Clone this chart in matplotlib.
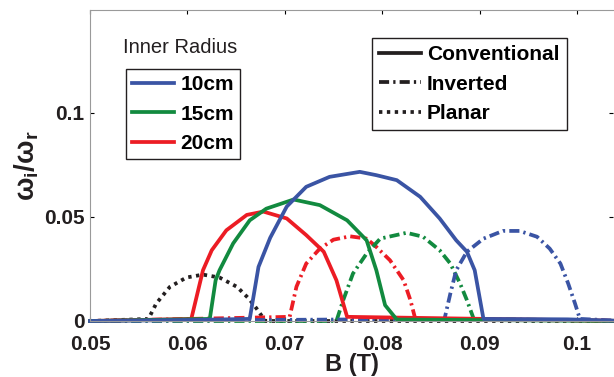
import matplotlib
matplotlib.use("Agg")
import matplotlib.pyplot as plt

plt.rcParams['font.family'] = ['Liberation Sans', 'DejaVu Sans']
plt.rcParams['mathtext.fontset'] = 'custom'
plt.rcParams['mathtext.rm'] = 'Liberation Sans'
plt.rcParams['mathtext.it'] = 'Liberation Sans:italic'
plt.rcParams['mathtext.bf'] = 'Liberation Sans:bold'

# curves, B (T) vs growth ratio
blue_conv_x = [0.05, 0.0605, 0.0664, 0.0673, 0.0685, 0.0702, 0.0722, 0.0746, 0.0777,
               0.0794, 0.0815, 0.0839, 0.0859, 0.0876, 0.0887, 0.0895, 0.0904, 0.099, 0.105]
blue_conv_y = [0, 0.0005, 0.001, 0.026, 0.040, 0.055, 0.0645, 0.0693, 0.0717,
               0.0701, 0.0677, 0.0597, 0.0493, 0.0388, 0.0333, 0.0244, 0.001, 0.0008, 0]

green_conv_x = [0.05, 0.0623, 0.0629, 0.0633, 0.0647, 0.0664, 0.0681, 0.0709, 0.0736,
                0.0764, 0.0784, 0.0794, 0.0803, 0.0815, 0.105]
green_conv_y = [0, 0.001, 0.0196, 0.0244, 0.0373, 0.0484, 0.054, 0.0584, 0.0557,
                0.0484, 0.0388, 0.0244, 0.0076, 0.0007, 0]

red_conv_x = [0.05, 0.0604, 0.0616, 0.0625, 0.0640, 0.0661, 0.0678, 0.0702, 0.0722,
              0.0740, 0.0753, 0.0764, 0.105]
red_conv_y = [0, 0.001, 0.0244, 0.034, 0.0436, 0.051, 0.0526, 0.0493, 0.0413,
              0.0333, 0.0196, 0.002, 0]

red_inv_x = [0.05, 0.0705, 0.0712, 0.0722, 0.0736, 0.0750, 0.0767, 0.0784, 0.0794,
             0.0808, 0.0822, 0.0829, 0.0834, 0.105]
red_inv_y = [0, 0.002, 0.0165, 0.0276, 0.0348, 0.0391, 0.0407, 0.0396, 0.0356,
             0.0292, 0.0196, 0.01, 0.001, 0]

green_inv_x = [0.05, 0.0753, 0.0760, 0.0770, 0.0784, 0.0798, 0.0825, 0.0842, 0.0859,
               0.0870, 0.0880, 0.0887, 0.0894, 0.105]
green_inv_y = [0, 0, 0.01, 0.0228, 0.0324, 0.0396, 0.0424, 0.0405, 0.034,
               0.0276, 0.018, 0.01, 0.001, 0]

blue_inv_x = [0.05, 0.0864, 0.0870, 0.0876, 0.0887, 0.0904, 0.0924, 0.0941, 0.0959,
              0.0972, 0.0983, 0.0991, 0.0998, 0.1003, 0.105]
blue_inv_y = [0, 0.001, 0.0132, 0.0244, 0.0333, 0.0396, 0.0433, 0.0433, 0.0405,
              0.0348, 0.0276, 0.018, 0.0084, 0.001, 0]

planar_x = [0.05, 0.0560, 0.0568, 0.0582, 0.0599, 0.0616, 0.0633, 0.0651, 0.0663,
            0.0671, 0.0680, 0.105]
planar_y = [0, 0.001, 0.0084, 0.0164, 0.0209, 0.0223, 0.0209, 0.0164, 0.0108,
            0.006, 0, 0]

xticks = [0.05, 0.06, 0.07, 0.08, 0.09, 0.1]
xticklabels = ['0.05', '0.06', '0.07', '0.08', '0.09', '0.1']
yticks = [0, 0.05, 0.1]
yticklabels = ['0', '0.05', '0.1']
radius_labels = ['10cm', '15cm', '20cm']
type_labels = ['Conventional', 'Inverted', 'Planar']

blue = '#3a54a4'
green = '#128a3f'
red = '#ec1c24'
black = '#231f20'

# matlab-ish dash patterns
dashdot = (0, (2.7, 1.1, 0.6, 1.1))
dotted = (0, (0.9, 1.2))

fig = plt.figure(figsize=(6.14, 3.77), dpi=100)
ax = fig.add_axes([90 / 614, 1 - 321 / 377, 523 / 614, 311 / 377])

lw = 2.7
ax.plot(planar_x, planar_y, ls=dotted, color=black, lw=lw, clip_on=False)
ax.plot(red_inv_x, red_inv_y, ls=dashdot, color=red, lw=lw, clip_on=False)
ax.plot(green_inv_x, green_inv_y, ls=dashdot, color=green, lw=lw, clip_on=False)
ax.plot(blue_inv_x, blue_inv_y, ls=dashdot, color=blue, lw=lw, clip_on=False)
h_red, = ax.plot(red_conv_x, red_conv_y, '-', color=red, lw=lw, clip_on=False)
h_green, = ax.plot(green_conv_x, green_conv_y, '-', color=green, lw=lw, clip_on=False)
h_blue, = ax.plot(blue_conv_x, blue_conv_y, '-', color=blue, lw=lw, clip_on=False)

ax.set_xlim(0.05, 0.1037)
ax.set_ylim(0, 0.1495)
ax.set_xticks(xticks)
ax.set_xticklabels(xticklabels, fontsize=15, fontweight='bold', color=black)
ax.set_yticks(yticks)
ax.set_yticklabels(yticklabels, fontsize=15, fontweight='bold', color=black)
ax.tick_params(direction='in', length=3, width=0.8, top=True, right=True)
ax.tick_params(axis='x', pad=10)
ax.tick_params(axis='y', pad=4)
for s in ['left', 'top', 'bottom']:
    ax.spines[s].set_color('#9a9a9a')
ax.spines['right'].set_visible(False)

ax.set_xlabel('B (T)', fontsize=17, fontweight='bold', color=black, labelpad=-1)
ax.set_ylabel(r'$\mathbf{\omega_i/\omega_r}$', fontsize=20, color=black, labelpad=2)

ax.text(0.063, 0.88, 'Inner Radius', transform=ax.transAxes, fontsize=14.5,
        color=black, va='center')

leg1 = ax.legend([h_blue, h_green, h_red], radius_labels, loc='upper left',
                 bbox_to_anchor=(0.069, 0.81), borderaxespad=0, fancybox=False,
                 edgecolor=black, framealpha=1, handlelength=2.0,
                 prop={'size': 15, 'weight': 'bold'}, labelspacing=0.5,
                 handletextpad=0.3, borderpad=0.3)
leg1.get_frame().set_linewidth(1)
ax.add_artist(leg1)

k1, = ax.plot([], [], '-', color=black, lw=lw)
k2, = ax.plot([], [], ls=dashdot, color=black, lw=lw)
k3, = ax.plot([], [], ls=dotted, color=black, lw=lw)
leg2 = ax.legend([k1, k2, k3], type_labels, loc='upper left',
                 bbox_to_anchor=(0.539, 0.91), borderaxespad=0, fancybox=False,
                 edgecolor=black, framealpha=1, handlelength=2.0,
                 prop={'size': 15, 'weight': 'bold'}, labelspacing=0.5,
                 handletextpad=0.3, borderpad=0.35)
leg2.get_frame().set_linewidth(1)

fig.savefig('out.png', dpi=100)
